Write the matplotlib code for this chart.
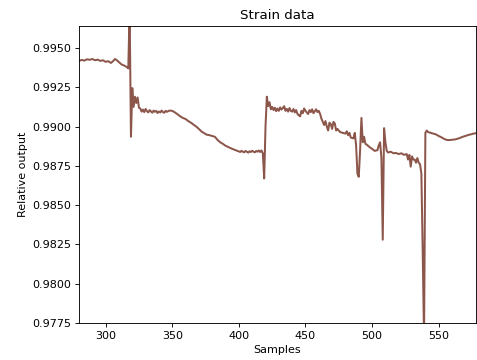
import numpy as np
import matplotlib
matplotlib.use("Agg")
import matplotlib.pyplot as plt

# strain readings (sample index, relative output)
samples = [280, 282, 284, 286, 288, 290, 292, 294, 296, 298,
           300, 302, 304, 306, 307, 308, 310, 312, 314, 316,
           317, 318, 319, 320, 321, 322, 323, 324, 325, 326,
           327, 328, 329, 330, 331, 332, 333, 334, 335, 336,
           337, 338, 339, 340, 341, 342, 343, 344, 345, 346,
           348, 350, 352, 354, 356, 358, 360, 362, 364, 366,
           368, 370, 372, 374, 376, 378, 380, 382, 384, 386,
           388, 390, 392, 394, 396, 398, 400, 401, 402, 403,
           404, 405, 406, 407, 408, 409, 410, 411, 412, 413,
           414, 415, 416, 417, 418, 419, 420, 421, 422, 423,
           424, 425, 426, 427, 428, 429, 430, 431, 432, 433,
           434, 435, 436, 437, 438, 439, 440, 441, 442, 443,
           444, 445, 446, 447, 448, 449, 450, 451, 452, 453,
           454, 455, 456, 457, 458, 459, 460, 461, 462, 463,
           464, 465, 466, 467, 468, 469, 470, 471, 472, 473,
           474, 476, 478, 480, 481, 482, 483, 484, 486, 487,
           488, 489, 490, 491, 492, 493, 494, 495, 496, 498,
           500, 502, 504, 505, 506, 507, 508, 509, 510, 511,
           512, 514, 516, 518, 520, 522, 524, 526, 527, 528,
           529, 530, 531, 532, 533, 534, 535, 536, 537, 538,
           539, 540, 541, 542, 544, 546, 548, 550, 552, 554,
           556, 558, 560, 562, 564, 566, 568, 570, 572, 574,
           576, 578]
output = [0.99418, 0.99424, 0.99420, 0.99428, 0.99425, 0.99430, 0.99422, 0.99426, 0.99418, 0.99422,
          0.99412, 0.99416, 0.99405, 0.99420, 0.99430, 0.99425, 0.99410, 0.99395, 0.99388, 0.99378,
          0.99370, 0.99750, 0.98935, 0.99245, 0.99125, 0.99190, 0.99150, 0.99185, 0.99120, 0.99115,
          0.99095, 0.99108, 0.99092, 0.99112, 0.99098, 0.99090, 0.99105, 0.99096, 0.99088, 0.99102,
          0.99094, 0.99100, 0.99086, 0.99096, 0.99090, 0.99102, 0.99092, 0.99088, 0.99100, 0.99094,
          0.99102, 0.99100, 0.99090, 0.99078, 0.99065, 0.99055, 0.99048, 0.99035, 0.99025, 0.99012,
          0.99000, 0.98985, 0.98968, 0.98958, 0.98948, 0.98945, 0.98940, 0.98935, 0.98915, 0.98900,
          0.98890, 0.98878, 0.98870, 0.98862, 0.98855, 0.98848, 0.98842, 0.98838, 0.98846, 0.98840,
          0.98836, 0.98845, 0.98840, 0.98834, 0.98843, 0.98838, 0.98846, 0.98840, 0.98836, 0.98845,
          0.98840, 0.98848, 0.98838, 0.98848, 0.98830, 0.98670, 0.99000, 0.99190, 0.99130, 0.99155,
          0.99110, 0.99125, 0.99105, 0.99120, 0.99098, 0.99115, 0.99100, 0.99122, 0.99108, 0.99118,
          0.99130, 0.99100, 0.99112, 0.99095, 0.99118, 0.99100, 0.99095, 0.99112, 0.99090, 0.99105,
          0.99080, 0.99072, 0.99065, 0.99100, 0.99085, 0.99115, 0.99100, 0.99090, 0.99080, 0.99105,
          0.99092, 0.99110, 0.99085, 0.99098, 0.99110, 0.99092, 0.99100, 0.99080, 0.99050, 0.99030,
          0.99010, 0.99035, 0.99000, 0.98975, 0.99025, 0.99015, 0.98985, 0.99030, 0.99020, 0.98975,
          0.98985, 0.98965, 0.98960, 0.98955, 0.98970, 0.98945, 0.98960, 0.98930, 0.98925, 0.98960,
          0.98880, 0.98700, 0.98680, 0.98850, 0.99055, 0.98900, 0.98935, 0.98890, 0.98885, 0.98870,
          0.98858, 0.98845, 0.98850, 0.98880, 0.98900, 0.98800, 0.98280, 0.98990, 0.98900, 0.98845,
          0.98835, 0.98840, 0.98830, 0.98832, 0.98825, 0.98830, 0.98820, 0.98825, 0.98790, 0.98820,
          0.98745, 0.98810, 0.98790, 0.98790, 0.98770, 0.98800, 0.98770, 0.98760, 0.98700, 0.98200,
          0.97650, 0.98960, 0.98975, 0.98965, 0.98960, 0.98955, 0.98950, 0.98940, 0.98932, 0.98922,
          0.98915, 0.98914, 0.98916, 0.98918, 0.98922, 0.98928, 0.98935, 0.98940, 0.98946, 0.98950,
          0.98955, 0.98958]

yticks = [0.9775, 0.9800, 0.9825, 0.9850, 0.9875, 0.9900, 0.9925, 0.9950]
xticks = [300, 350, 400, 450, 500, 550]

fig = plt.figure(figsize=(477 / 80, 360 / 80), dpi=80)
ax = fig.add_axes([79 / 477, 37 / 360, 397 / 477, 297 / 360])

ax.plot(samples, output, color="#8c564b", lw=1.8)

ax.set_xlim(280, 578)
ax.set_ylim(0.9775, 0.9964)
ax.set_xticks(xticks)
ax.set_yticks(yticks)
ax.set_yticklabels(["%.4f" % t for t in yticks])
ax.set_title("Strain data")
ax.set_xlabel("Samples")
ax.set_ylabel("Relative output")

fig.savefig("out.png", dpi=80)
